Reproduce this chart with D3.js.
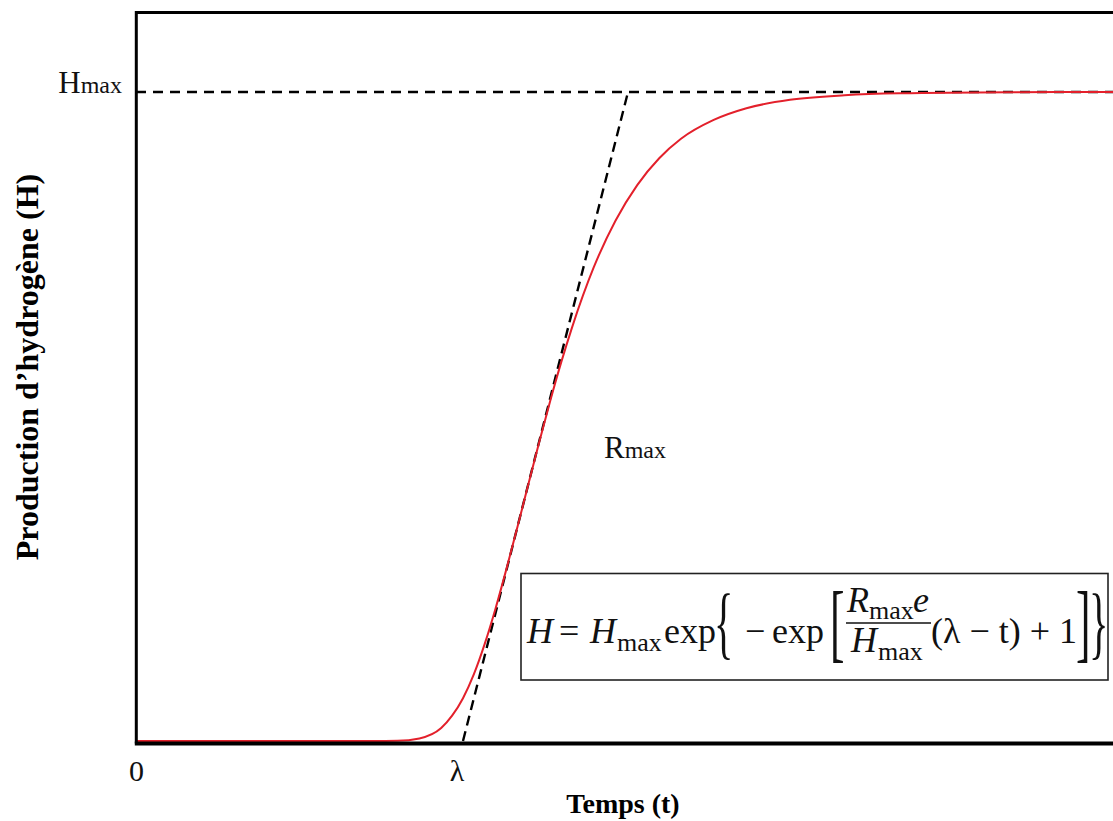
<!DOCTYPE html>
<html>
<head>
<meta charset="utf-8">
<script src="https://cdn.jsdelivr.net/npm/d3@7"></script>
<style>
  html, body { margin: 0; padding: 0; background: #fff; }
  svg { display: block; }
</style>
</head>
<body>
<svg id="chart" width="1113" height="821"></svg>
<script>
// ---- Data (time t, hydrogen production H, H normalised to Hmax = 1) ----
const curveT = [0, 1.0, 2.0, 2.4, 2.6, 2.8, 2.9, 3.0, 3.1, 3.2, 3.3, 3.4, 3.5, 3.6, 3.7, 3.8, 3.9, 4.0, 4.2, 4.4, 4.6, 4.8, 5.0, 5.3, 5.6, 6.0, 6.5, 7.0, 8.0, 9.0];
const curveH = [0, 0, 0, 0.0003, 0.004, 0.020, 0.039, 0.066, 0.103, 0.150, 0.205, 0.266, 0.330, 0.396, 0.461, 0.524, 0.583, 0.637, 0.730, 0.802, 0.857, 0.898, 0.928, 0.957, 0.975, 0.988, 0.995, 0.998, 0.9997, 1.0];
const tangentT = [3.0, 4.514];
const tangentH = [0, 1];
const hmaxValue = 1;
const xTickValues = [0, 3.0];
const xTickLabels = ["0", "λ"];
const yTickValues = [1];
const yTickLabels = [["H", "max"]];
const xDomain = [0, 9];
const yDomain = [0, 1];

const svg = d3.select("#chart");
const x = d3.scaleLinear().domain(xDomain).range([136, 1117]);
const y = d3.scaleLinear().domain(yDomain).range([741, 92]);
const SERIF = "'Liberation Serif', 'Times New Roman', serif";

// Hmax dashed line
svg.append("line")
  .attr("x1", x(0)).attr("x2", x(xDomain[1]))
  .attr("y1", y(hmaxValue)).attr("y2", y(hmaxValue))
  .attr("stroke", "#000").attr("stroke-width", 2.6)
  .attr("stroke-dasharray", "10,7");

// tangent dashed line
const tangentData = tangentT.map((t, i) => [t, tangentH[i]]);
svg.append("path")
  .datum(tangentData)
  .attr("d", d3.line().x(d => x(d[0])).y(d => y(d[1])))
  .attr("fill", "none").attr("stroke", "#000").attr("stroke-width", 2.4)
  .attr("stroke-dasharray", "10,6");

// red curve
const curveData = curveT.map((t, i) => [t, curveH[i]]);
svg.append("path")
  .datum(curveData)
  .attr("d", d3.line().x(d => x(d[0])).y(d => y(d[1])).curve(d3.curveMonotoneX))
  .attr("fill", "none").attr("stroke", "#e3202b").attr("stroke-width", 2);

// frame
svg.append("path")
  .attr("d", `M ${x(xDomain[1]) + 10} 12.5 H 136.3 V 743.5`)
  .attr("fill", "none").attr("stroke", "#000").attr("stroke-width", 3);
svg.append("line")
  .attr("x1", 134.8).attr("x2", 1120).attr("y1", 743.5).attr("y2", 743.5)
  .attr("stroke", "#000").attr("stroke-width", 4);

// x axis tick labels
const xAxis = d3.axisBottom(x).tickValues(xTickValues).tickSize(0)
  .tickFormat((d, i) => xTickLabels[i]);
const gx = svg.append("g").attr("transform", "translate(0,757)").call(xAxis);
gx.select(".domain").remove();
gx.selectAll("text")
  .attr("font-family", SERIF)
  .attr("font-size", 30).attr("fill", "#111")
  .attr("dy", 0).attr("y", 24);
gx.selectAll(".tick").filter((d, i) => i === 1).attr("transform", `translate(${x(3.0) - 6},0)`);

// y axis tick label (Hmax)
const yAxis = d3.axisLeft(y).tickValues(yTickValues).tickSize(0).tickFormat("");
const gy = svg.append("g").attr("transform", "translate(136,0)").call(yAxis);
gy.select(".domain").remove();
gy.selectAll(".tick").each(function(d, i) {
  const t = d3.select(this).select("text")
    .attr("x", -14).attr("dy", 0).attr("y", 0)
    .attr("text-anchor", "end")
    .attr("font-family", SERIF)
    .attr("fill", "#111");
  t.append("tspan").attr("font-size", 31).text(yTickLabels[i][0]);
  t.append("tspan").attr("font-size", 24).text(yTickLabels[i][1]);
});

// Rmax label
const rm = svg.append("text").attr("x", 604).attr("y", 458)
  .attr("font-family", SERIF).attr("fill", "#111");
rm.append("tspan").attr("font-size", 31).text("R");
rm.append("tspan").attr("font-size", 24).text("max");

// axis titles
svg.append("text").attr("x", 623).attr("y", 813).attr("text-anchor", "middle")
  .attr("font-family", SERIF)
  .attr("font-weight", "bold").attr("font-size", 28).attr("fill", "#000")
  .text("Temps (t)");
svg.append("text").attr("transform", "translate(38,367) rotate(-90)").attr("text-anchor", "middle")
  .attr("font-family", SERIF)
  .attr("font-weight", "bold").attr("font-size", 32).attr("fill", "#000")
  .text("Production d’hydrogène (H)");

// formula box
svg.append("rect").attr("x", 521).attr("y", 573.5).attr("width", 587).attr("height", 106.5)
  .attr("fill", "#fff").attr("stroke", "#222").attr("stroke-width", 1.6);

const fm = svg.append("g").attr("font-family", SERIF).attr("fill", "#111");
function ftext(xp, yp, s, size, italic) {
  return fm.append("text").attr("x", xp).attr("y", yp).attr("font-size", size)
    .attr("font-style", italic ? "italic" : "normal").text(s);
}
function tall(xp, yp, s, size, sx, sy) {
  return fm.append("text").attr("transform", `translate(${xp},${yp}) scale(${sx},${sy})`)
    .attr("font-size", size).text(s);
}
const BASE = 643;
ftext(527, BASE, "H", 36, true);
ftext(559, BASE, "=", 36, false);
ftext(590, BASE, "H", 36, true);
ftext(617, BASE + 8, "max", 26, false);
ftext(664, BASE, "exp", 36, false);
tall(714, 649, "{", 56, 0.72, 1.45);
ftext(745, BASE, "−", 36, false);
ftext(772, BASE, "exp", 36, false);
tall(830, 651, "[", 58, 0.75, 1.5);
ftext(847, 612, "R", 36, true);
ftext(869, 619, "max", 26, false);
ftext(913, 612, "e", 36, true);
fm.append("line").attr("x1", 846).attr("x2", 931).attr("y1", 623).attr("y2", 623)
  .attr("stroke", "#111").attr("stroke-width", 1.6);
ftext(851, 652, "H", 36, true);
ftext(878, 660, "max", 26, false);
ftext(931, BASE, "(λ − t) + 1", 36, false);
tall(1076, 651, "]", 58, 0.75, 1.5);
tall(1089, 649, "}", 56, 0.72, 1.45);
</script>
</body>
</html>
